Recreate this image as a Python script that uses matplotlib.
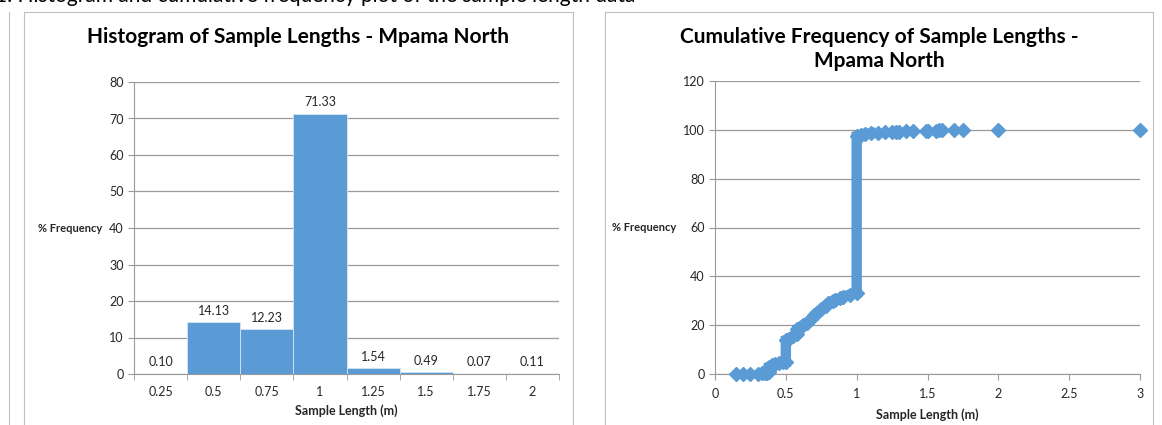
import matplotlib.pyplot as plt
from matplotlib.lines import Line2D

plt.rcParams["font.family"] = ["Lato", "DejaVu Sans"]

# histogram data
bin_labels = ["0.25", "0.5", "0.75", "1", "1.25", "1.5", "1.75", "2"]
pct_freq = [0.10, 14.13, 12.23, 71.33, 1.54, 0.49, 0.07, 0.11]

# cumulative frequency data
# isolated short samples
short_len = [0.15, 0.20, 0.25, 0.30, 0.33]
short_cum = [0.0, 0.05, 0.1, 0.2, 0.3]
# dense part of the curve
dense_len = [0.35, 0.37, 0.38, 0.38, 0.40, 0.42, 0.45, 0.48, 0.50, 0.50,
             0.52, 0.55, 0.58, 0.58, 0.60, 0.62, 0.65, 0.68, 0.70, 0.72,
             0.75, 0.78, 0.80, 0.83, 0.85, 0.88, 0.90, 0.95, 1.00, 1.00,
             1.03, 1.06, 1.10]
dense_cum = [0.4, 0.6, 1.0, 3.0, 3.5, 4.0, 4.5, 5.0, 5.0, 14.0,
             14.5, 15.5, 16.5, 18.5, 19.0, 20.0, 21.0, 22.5, 24.0, 25.0,
             26.5, 28.0, 29.0, 30.0, 30.5, 31.0, 31.5, 32.5, 33.0, 97.5,
             98.0, 98.3, 98.6]
# isolated long samples
long_len = [1.15, 1.20, 1.25, 1.28, 1.30, 1.35, 1.40, 1.49, 1.50, 1.56,
            1.58, 1.60, 1.69, 1.75, 2.00, 3.00]
long_cum = [98.8, 99.0, 99.1, 99.2, 99.3, 99.4, 99.5, 99.6, 99.65, 99.7,
            99.75, 99.8, 99.85, 99.9, 99.95, 100.0]

BLUE = "#5B9BD5"
GRID = "#9a9a9a"
TXT = "#262626"
W, H = 1162, 425

fig = plt.figure(figsize=(W / 100, H / 100), dpi=100)

# page decoration: clipped caption and chart frames
fig.text(-0.004, 1.01, "1: Histogram and cumulative frequency plot of the sample length data",
         fontsize=15, color="black", ha="left", va="center")
for x0, x1 in [(24, 573), (605, 1153)]:
    for x in (x0, x1):
        fig.add_artist(Line2D([x / W, x / W], [0, 1 - 12 / H], color="#bfbfbf", lw=0.8))
    fig.add_artist(Line2D([x0 / W, x1 / W], [1 - 12 / H] * 2, color="#bfbfbf", lw=0.8))
fig.add_artist(Line2D([9 / W, 9 / W], [0, 1 - 12 / H], color="#bfbfbf", lw=0.8))

# chart titles
fig.text(298 / W, 1 - 37 / H, "Histogram of Sample Lengths - Mpama North",
         fontsize=15, fontweight="bold", ha="center", va="center")
fig.text(879 / W, 1 - 37 / H, "Cumulative Frequency of Sample Lengths -",
         fontsize=15, fontweight="bold", ha="center", va="center")
fig.text(879 / W, 1 - 61 / H, "Mpama North",
         fontsize=15, fontweight="bold", ha="center", va="center")

# left: histogram
ax1 = fig.add_axes([134 / W, 51 / H, 425 / W, 292 / H])
pos = list(range(len(bin_labels)))
ax1.bar(pos, pct_freq, width=1.0, color=BLUE, edgecolor="#d6e4f2", linewidth=0.6, zorder=3)
for p, v in zip(pos, pct_freq):
    ax1.annotate(f"{v:.2f}", (p, v), xytext=(0, 4), textcoords="offset points",
                 ha="center", va="bottom", fontsize=9, color=TXT)
ax1.set_xlim(-0.5, len(bin_labels) - 0.5)
ax1.set_ylim(0, 80)
ax1.set_yticks(range(0, 81, 10))
ax1.set_xticks(pos)
ax1.set_xticklabels(bin_labels)
ax1.set_xticks([p - 0.5 for p in pos] + [len(pos) - 0.5], minor=True)
ax1.tick_params(axis="x", which="major", length=0, pad=9, labelsize=9, labelcolor=TXT)
ax1.tick_params(axis="x", which="minor", length=4, color=GRID, direction="out")
ax1.tick_params(axis="y", length=4, color=GRID, labelsize=9, labelcolor=TXT)
ax1.grid(axis="y", color=GRID, lw=0.9, zorder=0)
ax1.set_xlabel("Sample Length (m)", fontsize=9, fontweight="bold", color=TXT, labelpad=4)
ax1.set_ylabel("% Frequency", fontsize=8, fontweight="bold", color=TXT, rotation=0,
               ha="right", va="center")
ax1.yaxis.set_label_coords(-0.074, 0.5)

# right: cumulative frequency scatter
ax2 = fig.add_axes([715 / W, 51 / H, 425 / W, 293 / H])
ax2.plot(dense_len, dense_cum, color=BLUE, lw=7.5, marker="D", ms=7,
         solid_joinstyle="miter", zorder=3, clip_on=False)
ax2.plot(short_len, short_cum, ls="none", color=BLUE, marker="D", ms=7, zorder=3, clip_on=False)
ax2.plot(long_len, long_cum, ls="none", color=BLUE, marker="D", ms=7, zorder=3, clip_on=False)
ax2.set_xlim(0, 3)
ax2.set_ylim(0, 120)
ax2.set_xticks([0, 0.5, 1, 1.5, 2, 2.5, 3])
ax2.set_xticklabels(["0", "0.5", "1", "1.5", "2", "2.5", "3"])
ax2.set_yticks(range(0, 121, 20))
ax2.tick_params(axis="x", length=4, color=GRID, pad=6, labelsize=9, labelcolor=TXT)
ax2.tick_params(axis="y", length=4, color=GRID, labelsize=9, labelcolor=TXT)
ax2.grid(axis="y", color=GRID, lw=0.9, zorder=0)
ax2.set_xlabel("Sample Length (m)", fontsize=9, fontweight="bold", color=TXT, labelpad=6)
ax2.set_ylabel("% Frequency", fontsize=8, fontweight="bold", color=TXT, rotation=0,
               ha="right", va="center")
ax2.yaxis.set_label_coords(-0.092, 0.5)

for ax in (ax1, ax2):
    for side in ("top", "right"):
        ax.spines[side].set_visible(False)
    ax.spines["left"].set_color(GRID)
    ax.spines["bottom"].set_color(GRID)
    ax.set_axisbelow(True)

fig.savefig("out.png", dpi=100)
